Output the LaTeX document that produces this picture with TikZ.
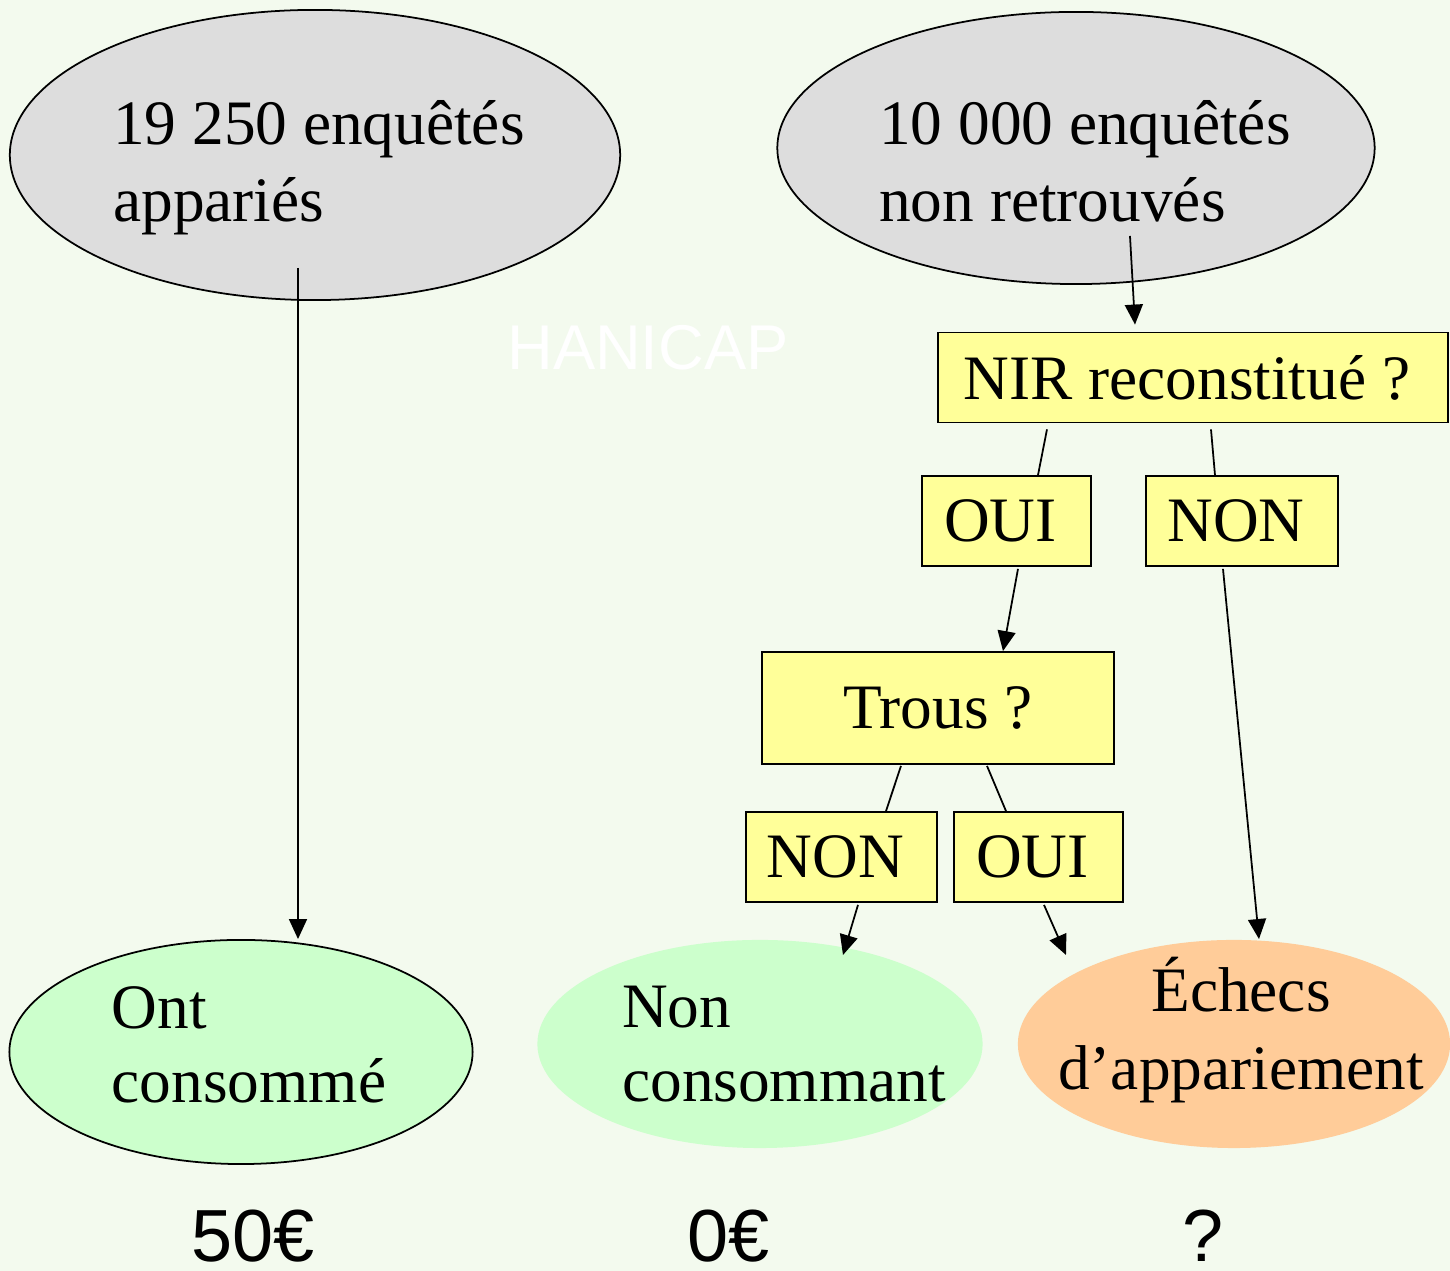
\documentclass[tikz,border=0pt]{standalone}
\usepackage{fontspec}
\setmainfont{Liberation Serif}
\newfontfamily\sansfont{Liberation Sans}
\usetikzlibrary{shapes.geometric,arrows.meta,calc}
\definecolor{fond}{RGB}{243,250,238}
\definecolor{gris}{RGB}{221,221,221}
\definecolor{jaune}{RGB}{255,255,153}
\definecolor{vert}{RGB}{204,255,204}
\definecolor{saumon}{RGB}{255,204,153}
\tikzset{
	bulle/.style={shape=ellipse,inner sep=0pt},
	cadre/.style={draw,fill=jaune,shape=rectangle,inner sep=0pt,minimum height=0.9cm},
	boite/.style={cadre,execute at end node={\kern0.12cm}},
	valeur/.style={font=\sansfont\fontsize{21}{25}\selectfont},
	fleche/.style={-{Triangle[length=2mm,width=1.8mm]}}
}
\begin{document}
\begin{tikzpicture}[x=0.01cm,y=-0.01cm,line width=0.5pt,font=\fontsize{18}{21}\selectfont]
\useasboundingbox (0,0) rectangle (1450,1271);
\fill[fond] (0,0) rectangle (1450,1271);
\path (648,348) node[text=white,font=\sansfont\fontsize{18}{21}\selectfont](hani){HANICAP};

% les deux groupes
\path (315,155) node[bulle,draw,fill=gris,minimum width=6.1cm,minimum height=2.9cm](app){};
\path ($(app.center)+(4,13)$) node[align=left,font=\fontsize{18}{22}\selectfont](apptxt){19 250 enquêtés\\appariés};
\path (1076,148) node[bulle,draw,fill=gris,minimum width=5.97cm,minimum height=2.72cm](nonret){};
\path ($(nonret.center)+(9,13)$) node[align=left,font=\fontsize{18}{22}\selectfont](nonrettxt){10 000 enquêtés\\non retrouvés};

% arbre de decision
\path (1193,377.5) node[boite,minimum width=5.1cm](nir){NIR reconstitué ?};
\path (1006.5,521) node[boite,minimum width=1.69cm](oui1){OUI};
\path (1242,521) node[boite,minimum width=1.92cm](non1){NON};
\path (938,708) node[cadre,minimum width=3.52cm,minimum height=1.12cm](trous){Trous ?};
\path (841.5,857) node[boite,minimum width=1.91cm](non2){NON};
\path (1038.5,857) node[boite,minimum width=1.69cm](oui2){OUI};

% resultats
\path (241,1052) node[bulle,draw,fill=vert,minimum width=4.63cm,minimum height=2.24cm](ont){};
\path ($(ont.center)+(8,-7)$) node[align=left](onttxt){Ont\\consommé};
\path (760,1044) node[bulle,fill=vert,minimum width=4.45cm,minimum height=2.08cm](noncons){};
\path ($(noncons.center)+(24,0)$) node[align=left](nonconstxt){Non\\consommant};
\path (1234,1044) node[bulle,fill=saumon,minimum width=4.32cm,minimum height=2.08cm](echec){};
\path ($(echec.center)+(7,-14)$) node[align=center,font=\fontsize{18}{22}\selectfont](echectxt){Échecs\\d’appariement};

\path (253,1236) node[valeur](v1){50€};
\path (729,1236) node[valeur](v2){0€};
\path (1203,1236) node[valeur](v3){?};

\draw[fleche] ($(app.center)+(-17,113)$) -- ($(ont.north)+(57,0)$);
\draw[fleche] ($(nonret.center)+(54,88)$) -- ($(nir.north)+(-58,-7)$);
\draw ($(nir.south)+(-146,6)$) -- ($(oui1.north)+(31.5,0)$);
\draw ($(nir.south)+(18,6)$) -- ($(non1.north)+(-27,0)$);
\draw[fleche] ($(oui1.south)+(11.5,2)$) -- ($(trous.north)+(65,0)$);
\draw ($(trous.south)+(-37,1)$) -- ($(non2.north)+(44.5,0)$);
\draw ($(trous.south)+(49,1)$) -- ($(oui2.north)+(-32.5,0)$);
\draw[fleche] ($(non2.south)+(16.5,2)$) -- ($(noncons.center)+(83,-89)$);
\draw[fleche] ($(oui2.south)+(5.5,2)$) -- ($(echec.center)+(-168,-89)$);
\draw[fleche] ($(non1.south)+(-19,2)$) -- ($(echec.north)+(25,0)$);

\end{tikzpicture}
\end{document}
